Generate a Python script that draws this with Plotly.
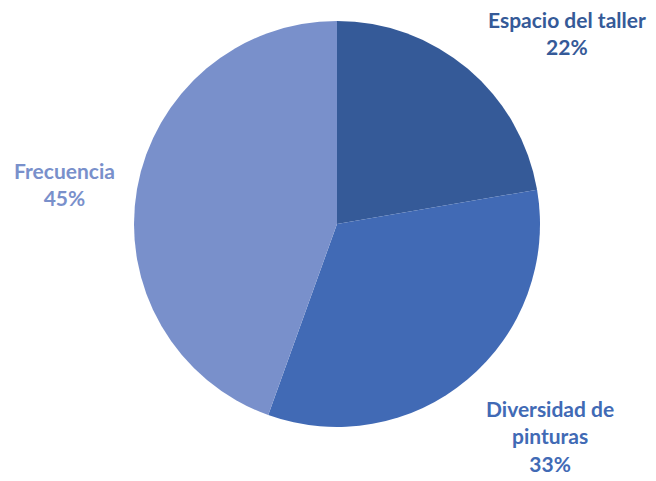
import plotly.graph_objects as go

categories = ["Espacio del taller", "Diversidad de pinturas", "Frecuencia"]
values = [22.3, 33.2, 44.5]
colors = ["#355a98", "#416ab5", "#7990cb"]
label_lines = [["Espacio del taller"], ["Diversidad de", "pinturas"], ["Frecuencia"]]

# the page body adds an 8px margin; the figure is sized to fit the window
OFF = 8
W, H = 656 - OFF, 481 - OFF

def px(x):
    return (x - OFF) / W

def py(y):
    return 1 - (y - OFF) / H

cx, cy, r = 337, 224, 203

fig = go.Figure(go.Pie(
    labels=categories,
    values=values,
    sort=False,
    direction="clockwise",
    rotation=0,
    marker=dict(colors=colors, line=dict(width=0)),
    textinfo="none",
    hoverinfo="label+percent",
    domain=dict(x=[px(cx - r), px(cx + r)],
                y=[py(cy + r), py(cy - r)]),
    showlegend=False,
))

total = sum(values)
# label anchor positions in page pixels (center x, top y)
anchors = [(567, 5), (550, 394), (64, 156)]
annotations = []
for lines, v, c, (ax, ay) in zip(label_lines, values, colors, anchors):
    pct = int(v / total * 100 + 0.5)
    text = "<br>".join(lines + [f"{pct}%"])
    annotations.append(dict(
        x=px(ax), y=py(ay), xref="paper", yref="paper",
        xanchor="center", yanchor="top", showarrow=False,
        text=text, align="center",
        font=dict(family="Lato", size=21, color=c, weight="bold"),
    ))

fig.update_layout(
    width=W, height=H,
    margin=dict(l=0, r=0, t=0, b=0),
    paper_bgcolor="white", plot_bgcolor="white",
    annotations=annotations,
)

fig.write_html("out.html")
